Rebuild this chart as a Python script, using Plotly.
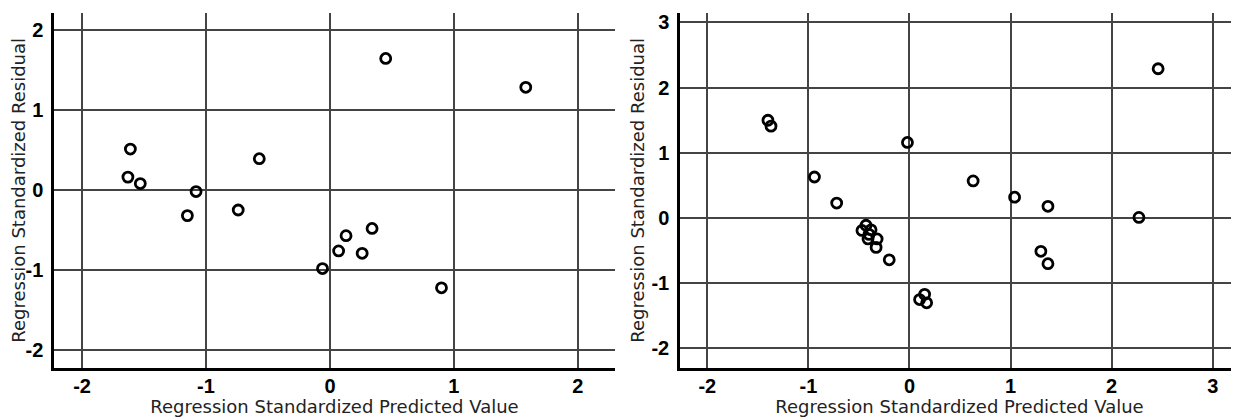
import plotly.graph_objects as go
from plotly.subplots import make_subplots

# Left panel data
left_pred = [0.45, 1.58, -1.61, -1.63, -1.53, -0.57, -1.08, -1.15, -0.74, 0.34, 0.13, 0.07, 0.26, -0.06, 0.90]
left_resid = [1.64, 1.28, 0.51, 0.16, 0.08, 0.39, -0.02, -0.32, -0.25, -0.48, -0.57, -0.76, -0.79, -0.98, -1.22]

# Right panel data
right_pred = [2.46, -1.40, -1.37, -0.02, -0.94, 0.63, -0.72, 1.04, 1.37, 2.27, 1.30, 1.37, -0.20,
              -0.43, -0.47, -0.38, -0.41, -0.32, -0.33, -0.40, 0.15, 0.10, 0.17]
right_resid = [2.29, 1.50, 1.41, 1.16, 0.63, 0.57, 0.23, 0.32, 0.18, 0.01, -0.51, -0.70, -0.64,
               -0.11, -0.19, -0.18, -0.32, -0.32, -0.45, -0.25, -1.17, -1.25, -1.30]

# Tick values / labels
left_x_ticks = [-2, -1, 0, 1, 2]
left_y_ticks = [-2, -1, 0, 1, 2]
right_x_ticks = [-2, -1, 0, 1, 2, 3]
right_y_ticks = [-2, -1, 0, 1, 2, 3]

x_title = "Regression Standardized Predicted Value"
y_title = "Regression Standardized Residual"

def labels(vals):
    return [str(v) for v in vals]

fig = make_subplots(rows=1, cols=2)

marker = dict(symbol="circle-open", size=10, color="black", line=dict(width=2.8, color="black"))
fig.add_trace(go.Scatter(x=left_pred, y=left_resid, mode="markers", marker=marker, showlegend=False), row=1, col=1)
fig.add_trace(go.Scatter(x=right_pred, y=right_resid, mode="markers", marker=marker, showlegend=False), row=1, col=2)

tick_font = dict(family="Liberation Sans, Arial, sans-serif", size=20, color="black", weight="bold")
title_font = dict(family="DejaVu Sans, sans-serif", size=18, color="#222")

common = dict(
    showgrid=True, gridcolor="#444444", gridwidth=2,
    zeroline=False, showline=True, linecolor="black", linewidth=2.5,
    ticks="", tickfont=tick_font, automargin=False, tickmode="array",
)

fig.update_xaxes(**common, ticklabelstandoff=-2)
fig.update_yaxes(**common, ticklabelstandoff=4)

ydom = [0.1198, 0.9885]
fig.update_layout(
    xaxis=dict(domain=[0.0374, 0.4931], range=[-2.226, 2.30],
               tickvals=left_x_ticks, ticktext=labels(left_x_ticks),
               title=dict(text=x_title, font=title_font, standoff=5)),
    yaxis=dict(domain=ydom, range=[-2.22, 2.21],
               tickvals=left_y_ticks, ticktext=labels(left_y_ticks),
               title=dict(text=y_title, font=title_font, standoff=3)),
    xaxis2=dict(domain=[0.5459, 1.0], range=[-2.27, 3.26],
                tickvals=right_x_ticks, ticktext=labels(right_x_ticks),
                title=dict(text=x_title, font=title_font, standoff=5)),
    yaxis2=dict(domain=ydom, range=[-2.30, 3.15],
                tickvals=right_y_ticks, ticktext=labels(right_y_ticks),
                title=dict(text=y_title, font=title_font, standoff=3)),
    width=1231, height=409,
    margin=dict(l=0, r=0, t=0, b=0),
    plot_bgcolor="white", paper_bgcolor="white",
)

fig.write_html("out.html")
